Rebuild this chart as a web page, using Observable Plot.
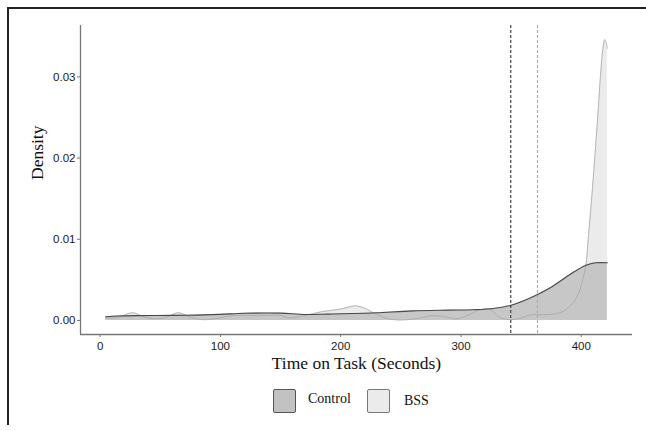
<!DOCTYPE html>
<html>
<head>
<meta charset="utf-8">
<script src="https://cdn.jsdelivr.net/npm/d3@7"></script>
<script src="https://cdn.jsdelivr.net/npm/@observablehq/plot@0.6"></script>
<style>
  html, body { margin: 0; padding: 0; background: #fff; }
  #wrap { position: relative; width: 646px; height: 430px; overflow: hidden; }
  #frame { position: absolute; left: 7px; top: 7px; width: 660px; height: 416px;
           border-left: 2px solid #222; border-top: 2px solid #222; pointer-events: none; }
  #chart { position: absolute; left: 0; top: 0; }
  .key { position: absolute; width: 21px; height: 22px; border: 1.5px solid #555; border-radius: 2px; }
  .lab { position: absolute; font-family: "Liberation Serif", serif; font-size: 14px; color: #111; line-height: 16px; }
</style>
</head>
<body>
<div id="wrap">
  <div id="chart"></div>
  <div id="frame"></div>
  <div id="legend"></div>
</div>
<script>
// Control density curve (time in seconds, density)
const controlX = [4.6, 15, 30, 60, 80, 100, 120, 150, 170, 190, 210, 230, 260, 290, 310, 325, 341, 358, 375, 391, 404, 412, 421.7];
const controlY = [0.00045, 0.00055, 0.0006, 0.00062, 0.00066, 0.00075, 0.00088, 0.0009, 0.00074, 0.00078, 0.00085, 0.00095, 0.00118, 0.00127, 0.00132, 0.00145, 0.00185, 0.0028, 0.0041, 0.0057, 0.0068, 0.0071, 0.0071];

// BSS density curve
const bssX = [4.6, 15, 27, 37, 45, 55, 65, 75, 85, 95, 110, 130, 150, 158, 170, 185, 200, 212, 220, 229, 240, 250, 262, 277, 288, 297, 308, 316, 324, 332, 341, 350, 358, 370, 383, 391, 397, 401, 404, 405.7, 409.4, 413.5, 416.3, 418, 419.5, 420.8, 421.7];
const bssY = [0.0003, 0.0004, 0.00095, 0.0004, 0.0002, 0.0004, 0.00095, 0.0004, 0.0001, 0.0002, 0.0006, 0.0006, 0.0006, 0.0003, 0.0006, 0.0011, 0.0014, 0.0018, 0.0015, 0.0008, 0.0002, 0.00005, 0.0002, 0.0006, 0.0004, 0.0002, 0.0008, 0.0013, 0.0014, 0.0004, 0.0001, 0.0003, 0.0007, 0.0007, 0.001, 0.0018, 0.0031, 0.0049, 0.007, 0.0099, 0.0164, 0.0247, 0.0308, 0.0335, 0.0346, 0.0342, 0.0335];

// Group means (dashed reference lines)
const meanNames = ["Control", "BSS"];
const meanValues = [341.4, 363.6];

// Axis ticks
const xTicks = [0, 100, 200, 300, 400];
const yTicks = [0, 0.01, 0.02, 0.03];

const groups = ["Control", "BSS"];
const fills = { Control: "#c2c2c2", BSS: "#ebebeb" };
const keyBorders = { Control: "#555", BSS: "#777" };

const control = controlX.map((x, i) => ({ x, y: controlY[i] }));
const bss = bssX.map((x, i) => ({ x, y: bssY[i] }));
const means = meanNames.map((g, i) => ({ g, v: meanValues[i] }));

const serif = "Liberation Serif, Times New Roman, serif";
const sans = "Liberation Sans, Arial, sans-serif";

const chart = Plot.plot({
  width: 646,
  height: 380,
  marginLeft: 80,
  marginRight: 14,
  marginTop: 25,
  marginBottom: 46,
  style: { fontFamily: sans, fontSize: "11.5px", color: "#222", background: "transparent" },
  x: { domain: [-16.3, 442.6] },
  y: { domain: [-0.00173, 0.03633] },
  marks: [
    Plot.areaY(bss, { x: "x", y: "y", fill: fills.BSS, curve: "catmull-rom" }),
    Plot.areaY(control, { x: "x", y: "y", fill: fills.Control, fillOpacity: 0.92, curve: "catmull-rom" }),
    Plot.lineY(bss, { x: "x", y: "y", stroke: "#a8a8a8", strokeWidth: 1, strokeOpacity: 0.8, curve: "catmull-rom" }),
    Plot.lineY(control, { x: "x", y: "y", stroke: "#4a4a4a", strokeWidth: 1.1, curve: "catmull-rom" }),
    Plot.ruleX(means, { x: "v", stroke: d => d.g === "Control" ? "#333" : "#aaa", strokeWidth: 1.1, strokeDasharray: "3,2" }),
    Plot.axisX({ ticks: xTicks, tickSize: 3, tickPadding: 4, label: null, stroke: "#777", fill: "#1a1a1a", fontSize: 11.5 }),
    Plot.axisY({ ticks: yTicks, tickSize: 3, tickPadding: 2, tickFormat: d3.format(".2f"), label: null, stroke: "#777", fill: "#1a1a1a", fontSize: 11.5 }),
    Plot.ruleY([-0.00173], { stroke: "#777", strokeWidth: 1.3 }),
    Plot.ruleX([-16.3], { stroke: "#777", strokeWidth: 1.3 }),
    Plot.text(["Time on Task (Seconds)"], { frameAnchor: "bottom", text: d => d, dy: 34, fontFamily: serif, fontSize: 17.5, fill: "#111" }),
    Plot.text(["Density"], { frameAnchor: "left", text: d => d, rotate: -90, dx: -43, fontFamily: serif, fontSize: 17.5, fill: "#111" })
  ]
});
document.getElementById("chart").appendChild(chart);

// Legend below the SVG
const legend = document.getElementById("legend");
const keyPos = { Control: [273, 389, 308, 391], BSS: [367, 389, 404, 393] };
groups.forEach(g => {
  const [kx, ky, tx, ty] = keyPos[g];
  const k = document.createElement("div");
  k.className = "key";
  k.style.left = kx + "px"; k.style.top = ky + "px";
  k.style.background = fills[g]; k.style.borderColor = keyBorders[g];
  legend.appendChild(k);
  const t = document.createElement("div");
  t.className = "lab";
  t.style.left = tx + "px"; t.style.top = ty + "px";
  t.textContent = g;
  legend.appendChild(t);
});
</script>
</body>
</html>
